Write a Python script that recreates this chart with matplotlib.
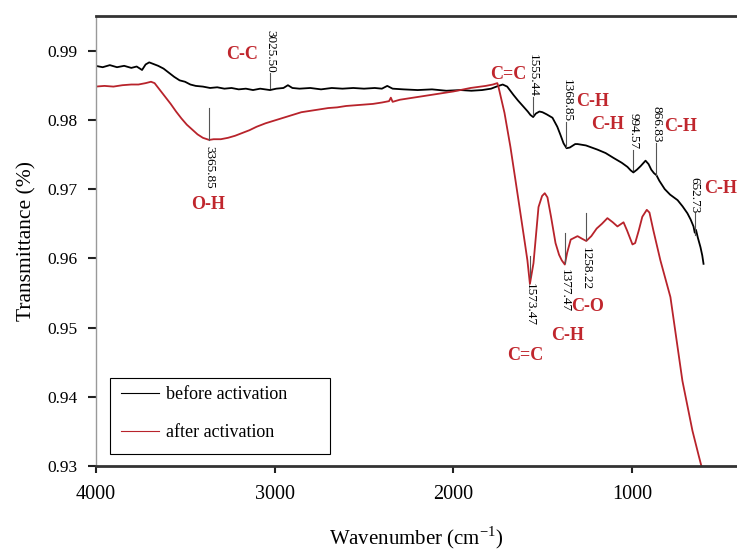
import matplotlib
matplotlib.use("Agg")
import matplotlib.pyplot as plt
from matplotlib.patches import Rectangle

# FTIR spectra
wn_before = [4000, 3960, 3920, 3880, 3840, 3800, 3770, 3740, 3720, 3700, 3680, 3650,
             3620, 3590, 3560, 3530, 3500, 3470, 3440, 3400, 3360, 3320, 3280, 3240,
             3200, 3160, 3120, 3080, 3025, 2990, 2950, 2925, 2900, 2860, 2800, 2740,
             2680, 2620, 2560, 2500, 2440, 2400, 2370, 2340, 2280, 2200, 2120, 2040,
             1960, 1900, 1840, 1790, 1760, 1725, 1700, 1665, 1640, 1609, 1585, 1570,
             1555, 1540, 1520, 1503, 1480, 1447, 1420, 1402, 1385, 1368, 1350, 1320,
             1307, 1260, 1196, 1150, 1106, 1060, 1028, 1010, 995, 975, 955, 927,
             910, 895, 880, 866, 850, 820, 790, 748, 720, 693, 675, 659, 652, 645,
             635, 620, 610, 603]
tr_before = [0.9878, 0.9876, 0.9879, 0.9876, 0.9878, 0.9875, 0.9877, 0.9872, 0.9880, 0.9883, 0.9881, 0.9878,
             0.9874, 0.9868, 0.9862, 0.9857, 0.9855, 0.9851, 0.9849, 0.9848, 0.9846, 0.9847, 0.9845, 0.9846,
             0.9844, 0.9845, 0.9843, 0.9845, 0.9843, 0.9845, 0.9846, 0.9850, 0.9846, 0.9845, 0.9846, 0.9844,
             0.9846, 0.9845, 0.9846, 0.9845, 0.9846, 0.9845, 0.9849, 0.9845, 0.9844, 0.9843, 0.9844, 0.9842,
             0.9843, 0.9842, 0.9843, 0.9845, 0.9848, 0.9851, 0.9848, 0.9836, 0.9828, 0.9819, 0.9812, 0.9807,
             0.9804, 0.9809, 0.9812, 0.9811, 0.9808, 0.9803, 0.9790, 0.9778, 0.9766, 0.9759, 0.9760, 0.9765,
             0.9765, 0.9763, 0.9757, 0.9752, 0.9745, 0.9738, 0.9732, 0.9727, 0.9724, 0.9728, 0.9733, 0.9741,
             0.9736, 0.9728, 0.9723, 0.9720, 0.9712, 0.9700, 0.9692, 0.9684, 0.9675, 0.9665, 0.9656, 0.9646,
             0.9637, 0.9641, 0.9630, 0.9616, 0.9604, 0.9592]

wn_after = [4000, 3950, 3900, 3850, 3800, 3760, 3720, 3690, 3670, 3640, 3610, 3580,
            3550, 3520, 3490, 3460, 3430, 3400, 3365, 3340, 3300, 3260, 3220, 3180,
            3140, 3100, 3050, 3000, 2950, 2900, 2850, 2800, 2750, 2700, 2650, 2600,
            2550, 2500, 2450, 2400, 2360, 2350, 2340, 2300, 2200, 2100, 2000, 1905,
            1820, 1780, 1755, 1749, 1715, 1682, 1655, 1626, 1600, 1587, 1573, 1553,
            1525, 1505, 1490, 1475, 1455, 1430, 1410, 1395, 1378, 1365, 1345, 1307,
            1280, 1258, 1230, 1200, 1170, 1140, 1110, 1084, 1050, 1030, 1000, 985,
            965, 945, 920, 905, 883, 844, 788, 721, 665, 630, 610]
tr_after = [0.9848, 0.9849, 0.9848, 0.9850, 0.9851, 0.9851, 0.9853, 0.9855, 0.9853, 0.9843, 0.9833, 0.9823,
            0.9812, 0.9802, 0.9793, 0.9786, 0.9779, 0.9774, 0.9771, 0.9772, 0.9772, 0.9774, 0.9777, 0.9781,
            0.9785, 0.9790, 0.9795, 0.9799, 0.9803, 0.9807, 0.9811, 0.9813, 0.9815, 0.9817, 0.9818, 0.9820,
            0.9821, 0.9822, 0.9823, 0.9825, 0.9827, 0.9832, 0.9826, 0.9829, 0.9833, 0.9837, 0.9841, 0.9846,
            0.9849, 0.9851, 0.9853, 0.9848, 0.9810, 0.9761, 0.9715, 0.9665, 0.9620, 0.9597, 0.9563, 0.9593,
            0.9674, 0.9690, 0.9694, 0.9688, 0.9660, 0.9622, 0.9605, 0.9597, 0.9591, 0.9608, 0.9627, 0.9632,
            0.9628, 0.9625, 0.9632, 0.9643, 0.9650, 0.9658, 0.9652, 0.9646, 0.9652, 0.9640, 0.9620, 0.9622,
            0.9640, 0.9660, 0.9670, 0.9666, 0.9640, 0.9597, 0.9544, 0.9423, 0.9351, 0.9315, 0.9295]

# peak markers: position, line bottom, line top, label side
peak_wn = [3025.50, 3365.85, 1555.44, 1368.85, 994.57, 866.83, 652.73, 1573.47, 1377.47, 1258.22]
peak_lo = [0.9846, 0.9771, 0.9807, 0.9761, 0.9728, 0.9720, 0.9633, 0.9573, 0.9593, 0.9626]
peak_hi = [0.9868, 0.9817, 0.9833, 0.9797, 0.9757, 0.9767, 0.9665, 0.9604, 0.9636, 0.9665]
peak_side = ["up", "down", "up", "up", "up", "up", "up", "down", "down", "down"]

# functional group labels
group_txt = ["C-C", "O-H", "C=C", "C-H", "C-H", "C-H", "C-H", "C=C", "C-H", "C-O"]
group_wn = [3179, 3369, 1693, 1223, 1140, 732, 505, 1598, 1363, 1251]
group_tr = [0.9894, 0.9677, 0.9865, 0.9826, 0.9793, 0.9791, 0.9701, 0.9459, 0.9488, 0.9530]

plt.rcParams['font.family'] = ['Liberation Serif', 'DejaVu Serif']
plt.rcParams['mathtext.fontset'] = 'custom'
plt.rcParams['mathtext.rm'] = 'Liberation Serif'

fig = plt.figure(figsize=(7.37, 5.49), dpi=100)
ax = fig.add_axes([0.1296, 0.1512, 0.8704, 0.8197])

ax.plot(wn_before, tr_before, color='black', lw=1.3, label='before activation')
ax.plot(wn_after, tr_after, color='#b8232b', lw=1.3, label='after activation')

for w, lo, hi, side in zip(peak_wn, peak_lo, peak_hi, peak_side):
    ax.plot([w, w], [lo, hi], color='#555555', lw=0.8)
    if side == "up":
        ax.text(w, hi, f"{w:.2f}", rotation=270, ha='center', va='bottom', fontsize=9.5)
    else:
        ax.text(w, lo - 0.0009, f"{w:.2f}", rotation=270, ha='center', va='top', fontsize=9.5)

for t, w, v in zip(group_txt, group_wn, group_tr):
    ax.text(w, v, t, color='#c0262d', fontweight='bold', fontsize=13,
            ha='center', va='center', clip_on=False)

ax.set_xlim(4000, 416)
ax.set_ylim(0.93, 0.995)
ax.set_xticks([4000, 3000, 2000, 1000])
ax.set_yticks([0.93, 0.94, 0.95, 0.96, 0.97, 0.98, 0.99])
ax.set_yticklabels(["0.93", "0.94", "0.95", "0.96", "0.97", "0.98", "0.99"])
ax.tick_params(axis='y', direction='out', length=6, width=1.5, pad=7, labelsize=12.5, color='#222222')
ax.tick_params(axis='x', direction='out', length=5, width=1.5, pad=9, labelsize=14.5, color='#222222')

ax.spines['right'].set_visible(False)
ax.spines['top'].set_linewidth(2.0)
ax.spines['top'].set_color('#333333')
ax.spines['bottom'].set_linewidth(2.0)
ax.spines['bottom'].set_color('#333333')
ax.spines['left'].set_linewidth(1.0)
ax.spines['left'].set_color('#999999')

ax.set_ylabel('Transmittance (%)', fontsize=15.5, labelpad=8)
ax.set_xlabel('Wavenumber (cm$^{\\mathrm{-1}}$)', fontsize=15, labelpad=14)

# legend box is wider than its text in the original
ax.add_patch(Rectangle((0.0226, 0.0268), 0.343, 0.169, transform=ax.transAxes,
                       fill=False, edgecolor='black', lw=0.8, zorder=5))
leg = ax.legend(loc='upper left', bbox_to_anchor=(0.040, 0.177), fontsize=13,
                frameon=False, handlelength=2.1, handletextpad=0.4,
                labelspacing=1.15, borderpad=0, borderaxespad=0)
for ln in leg.get_lines():
    ln.set_linewidth(0.8)

fig.savefig('out.png', dpi=100)
